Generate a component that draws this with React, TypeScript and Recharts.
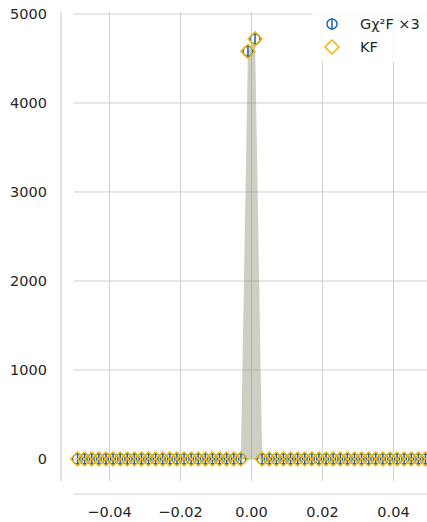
import { ComposedChart, Area, Scatter, XAxis, YAxis, CartesianGrid } from 'recharts'

// bin centres
const binCentres = [
  -0.049, -0.047, -0.045, -0.043, -0.041, -0.039, -0.037, -0.035, -0.033, -0.031,
  -0.029, -0.027, -0.025, -0.023, -0.021, -0.019, -0.017, -0.015, -0.013, -0.011,
  -0.009, -0.007, -0.005, -0.003, -0.001, 0.001, 0.003, 0.005, 0.007, 0.009,
  0.011, 0.013, 0.015, 0.017, 0.019, 0.021, 0.023, 0.025, 0.027, 0.029,
  0.031, 0.033, 0.035, 0.037, 0.039, 0.041, 0.043, 0.045, 0.047, 0.049,
]

const gx2fValues = [
  0, 0, 0, 0, 0, 0, 0, 0, 0, 0,
  0, 0, 0, 0, 0, 0, 0, 0, 0, 0,
  0, 0, 0, 0, 4580, 4720, 0, 0, 0, 0,
  0, 0, 0, 0, 0, 0, 0, 0, 0, 0,
  0, 0, 0, 0, 0, 0, 0, 0, 0, 0,
]

const kfValues = [
  0, 0, 0, 0, 0, 0, 0, 0, 0, 0,
  0, 0, 0, 0, 0, 0, 0, 0, 0, 0,
  0, 0, 0, 0, 4580, 4720, 0, 0, 0, 0,
  0, 0, 0, 0, 0, 0, 0, 0, 0, 0,
  0, 0, 0, 0, 0, 0, 0, 0, 0, 0,
]

const xTicks = [-0.04, -0.02, 0, 0.02, 0.04]
const yTicks = [0, 1000, 2000, 3000, 4000, 5000]

const seriesNames = ['Gχ²F ×3', 'KF']

const BLUE = '#1c62b0'
const GOLD = '#f5b60a'
const INK = '#262626'
const GRID = '#d0d0d0'
const FONT = 'DejaVu Sans, sans-serif'

const rows = binCentres.map((x, i) => ({ x, gx2f: gx2fValues[i], kf: kfValues[i] }))

const fmtX = (v: number) => (v < 0 ? '\u2212' : '') + Math.abs(v).toFixed(2)

function CircleBar({ cx, cy }: any) {
  return (
    <g>
      <circle cx={cx} cy={cy} r={5} fill="none" stroke={BLUE} strokeWidth={1.5} />
      <line x1={cx} x2={cx} y1={cy - 5.5} y2={cy + 5.5} stroke={BLUE} strokeWidth={1.5} />
    </g>
  )
}

function Diamond({ cx, cy }: any) {
  const r = 7
  return (
    <polygon
      points={`${cx},${cy - r} ${cx + r},${cy} ${cx},${cy + r} ${cx - r},${cy}`}
      fill="none"
      stroke={GOLD}
      strokeWidth={1.5}
    />
  )
}

function LegendBox() {
  return (
    <div
      style={{
        position: 'absolute',
        left: 312,
        top: 8,
        width: 130,
        height: 54,
        background: 'rgba(255,255,255,0.9)',
        borderRadius: 4,
        fontFamily: FONT,
        fontSize: 14.5,
        color: INK,
      }}
    >
      {seriesNames.map((name, i) => (
        <div key={name} style={{ position: 'absolute', left: 0, top: 6 + i * 23, height: 20, display: 'flex', alignItems: 'center' }}>
          <svg width={40} height={20} style={{ display: 'block' }}>
            {i === 0 ? <CircleBar cx={20} cy={10} /> : <Diamond cx={20} cy={10} />}
          </svg>
          <span style={{ marginLeft: 8, whiteSpace: 'pre' }}>{name}</span>
        </div>
      ))}
    </div>
  )
}

export default function App() {
  return (
    <div style={{ position: 'fixed', left: 0, top: 0, width: 427, height: 522, overflow: 'hidden', background: '#fff' }}>
      <ComposedChart width={430} height={522} data={rows} margin={{ top: 12, right: 1, bottom: 0, left: 0 }}>
        <CartesianGrid
          xAxisId="x"
          yAxisId="y"
          horizontalValues={yTicks}
          verticalValues={xTicks}
          stroke={GRID}
          strokeWidth={1}
        />
        {/* spacer axes push the visible spines away from the plot */}
        <XAxis xAxisId="pad" type="number" domain={[0, 1]} height={13} axisLine={false} tickLine={false} tick={false} />
        <XAxis
          xAxisId="x"
          dataKey="x"
          type="number"
          domain={[-0.05, 0.05]}
          ticks={xTicks}
          tickFormatter={fmtX}
          height={28}
          axisLine={{ stroke: GRID, strokeWidth: 1.2 }}
          tickLine={false}
          tickMargin={7}
          tick={{ fill: INK, fontSize: 14.5, fontFamily: FONT }}
        />
        <YAxis yAxisId="pad" type="number" domain={[0, 1]} width={13} axisLine={false} tickLine={false} tick={false} />
        <YAxis
          yAxisId="y"
          type="number"
          domain={[-247, 5022]}
          ticks={yTicks}
          width={61}
          axisLine={{ stroke: GRID, strokeWidth: 1.2 }}
          tickLine={false}
          tickMargin={8}
          tick={{ fill: INK, fontSize: 14.5, fontFamily: FONT }}
        />
        <Area
          xAxisId="x"
          yAxisId="y"
          type="linear"
          dataKey="kf"
          stroke="none"
          fill="#8f9679"
          fillOpacity={0.45}
          isAnimationActive={false}
        />
        <Scatter xAxisId="x" yAxisId="y" name={seriesNames[0]} dataKey="gx2f" shape={CircleBar} isAnimationActive={false} />
        <Scatter xAxisId="x" yAxisId="y" name={seriesNames[1]} dataKey="kf" shape={Diamond} isAnimationActive={false} />
      </ComposedChart>
      <LegendBox />
    </div>
  )
}
